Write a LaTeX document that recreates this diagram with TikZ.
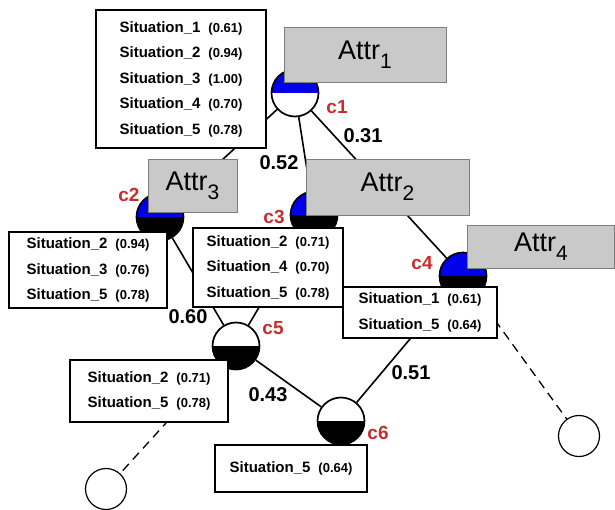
\documentclass[tikz,border=0pt]{standalone}
\usepackage{fontspec}
\setmainfont{Liberation Sans}
\definecolor{cred}{RGB}{200,45,45}
\definecolor{cblue}{RGB}{0,0,235}
\definecolor{attrgray}{RGB}{201,201,201}
\definecolor{attredge}{RGB}{125,125,125}
% one line of a situation list: name, then its score in a smaller size
\newcommand\sitline[2]{{\fontsize{15}{25}\selectfont\bfseries Situation\_#1}\hspace{8pt}{\fontsize{13}{25}\selectfont\bfseries (#2)}}
\newcommand\attrtext[1]{Attr\raisebox{-9pt}{\fontsize{21}{21}\selectfont #1}}
\tikzset{
  cnode/.style={circle, draw, line width=1.7pt, minimum size=47pt, inner sep=0pt, fill=white},
  halves/.style 2 args={path picture={
      \fill[#1] (path picture bounding box.north west) rectangle (path picture bounding box.east);
      \fill[#2] (path picture bounding box.west) rectangle (path picture bounding box.south east);}},
  leaf/.style={circle, draw, line width=1.2pt, minimum size=41pt, inner sep=0pt, fill=white},
  sitbox/.style={draw, line width=1.3pt, fill=white, align=left, inner sep=0pt,
      font=\fontsize{15}{25.5}\selectfont},
  attrbox/.style={draw=attredge, fill=attrgray, line width=1pt, inner sep=0pt,
      font=\fontsize{27}{27}\selectfont},
  link/.style={line width=1.6pt},
  dlink/.style={line width=1.3pt, dash pattern=on 9pt off 6pt},
  wlabel/.style={font=\bfseries\fontsize{20}{20}\selectfont, inner sep=0pt},
  clabel/.style={text=cred, font=\bfseries\fontsize{19}{19}\selectfont, inner sep=0pt},
}
\begin{document}
\begin{tikzpicture}[x=1pt, y=-1pt]
\useasboundingbox (0,0) rectangle (615,509);

% concepts
\node[cnode, halves={cblue}{white}] (c1) at (295,93) {};
\node[cnode, halves={cblue}{black}] (c2) at (160,217) {};
\node[cnode, halves={cblue}{black}] (c3) at (314,215) {};
\node[cnode, halves={cblue}{black}] (c4) at (463,276) {};
\node[cnode, halves={white}{black}] (c5) at (236,346) {};
\node[cnode, halves={white}{black}] (c6) at (341,421) {};
\node[leaf] (l5) at (106,489) {};
\node[leaf] (l4) at (579,436) {};

% links between concepts
\draw[link] (c1) -- (c2);
\draw[link] (c1) -- (c3);
\draw[link] (c1) -- (c4);
\draw[link] (c2) -- (c5);
\draw[link] (c3) -- (c5);
\draw[link] (c5) -- (c6);
\draw[link] (c4) -- (c6);
\draw[dlink] (c5) -- (l5);
\draw[dlink] (c4) -- (l4);

% situation lists
\node[sitbox, minimum width=170pt, minimum height=138pt] (s1) at (181,79)
  {\sitline{1}{0.61}\\\sitline{2}{0.94}\\\sitline{3}{1.00}\\\sitline{4}{0.70}\\\sitline{5}{0.78}};
\node[sitbox, minimum width=158pt, minimum height=76pt] (s2) at (88,270)
  {\sitline{2}{0.94}\\\sitline{3}{0.76}\\\sitline{5}{0.78}};
\node[sitbox, minimum width=150pt, minimum height=79pt] (s3) at (268,267.5)
  {\sitline{2}{0.71}\\\sitline{4}{0.70}\\\sitline{5}{0.78}};
\node[sitbox, minimum width=154pt, minimum height=51pt] (s4) at (420,312.5)
  {\sitline{1}{0.61}\\\sitline{5}{0.64}};
\node[sitbox, minimum width=158pt, minimum height=62pt] (s5) at (149,391)
  {\sitline{2}{0.71}\\\sitline{5}{0.78}};
\node[sitbox, minimum width=152pt, minimum height=47pt] (s6) at (291,468.5)
  {\sitline{5}{0.64}};

% attribute tags
\node[attrbox, minimum width=162pt, minimum height=55pt] (a1) at (365,54.5) {\attrtext{1}};
\node[attrbox, minimum width=89pt, minimum height=53pt] (a3) at (192.5,185.5) {\attrtext{3}};
\node[attrbox, minimum width=163pt, minimum height=56pt] (a2) at (387.5,187) {\attrtext{2}};
\node[attrbox, minimum width=147pt, minimum height=43pt] (a4) at (541,246.5) {\attrtext{4}};

% weights
\node[wlabel] (w13) at (279,163) {0.52};
\node[wlabel] (w14) at (363,136) {0.31};
\node[wlabel] (w25) at (188,317) {0.60};
\node[wlabel] (w56) at (268,395) {0.43};
\node[wlabel] (w46) at (411,373) {0.51};

% concept names
\node[clabel] (n1) at (337,107) {c1};
\node[clabel] (n2) at (129,195) {c2};
\node[clabel] (n3) at (274,217) {c3};
\node[clabel] (n4) at (422,263) {c4};
\node[clabel] (n5) at (273,328) {c5};
\node[clabel] (n6) at (378,433) {c6};
\end{tikzpicture}
\end{document}
